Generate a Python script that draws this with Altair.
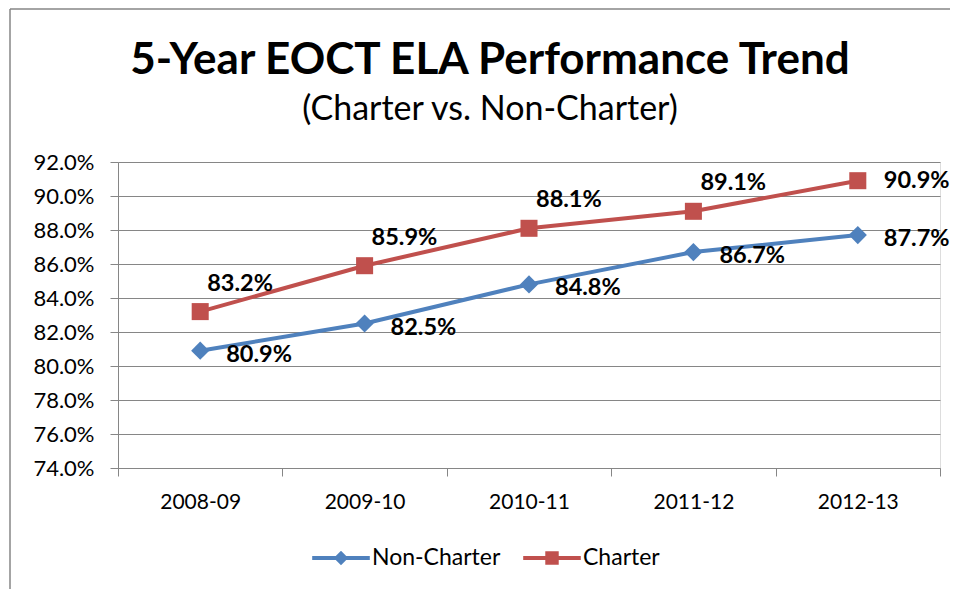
import altair as alt
import pandas as pd

years = ["2008-09", "2009-10", "2010-11", "2011-12", "2012-13"]
non_charter = [0.809, 0.825, 0.848, 0.867, 0.877]
charter = [0.832, 0.859, 0.881, 0.891, 0.909]
series = ["Non-Charter", "Charter"]
colors = ["#4F81BD", "#C0504D"]
y_ticks = [0.74, 0.76, 0.78, 0.80, 0.82, 0.84, 0.86, 0.88, 0.90, 0.92]

FONT = "Lato"

rows = []
for i, yr in enumerate(years):
    last = i == len(years) - 1
    rows.append(dict(idx=i, year=yr, series="Non-Charter", value=non_charter[i], last=last))
    rows.append(dict(idx=i, year=yr, series="Charter", value=charter[i], last=last))
df = pd.DataFrame(rows)

years_js = "[" + ",".join("'%s'" % y for y in years) + "]"

x_scale = alt.Scale(domain=[-0.5, len(years) - 0.5], nice=False, zero=False)
y_scale = alt.Scale(domain=[0.74, 0.92], nice=False, zero=False)

x_labels = alt.X(
    "idx:Q", scale=x_scale,
    axis=alt.Axis(orient="bottom", values=list(range(len(years))), labelExpr=years_js + "[datum.value]",
                  title=None, grid=False, ticks=False, domain=False,
                  labelFont=FONT, labelFontSize=21, labelColor="#000000",
                  labelPadding=23, labelOverlap=False),
)
x_ticks = alt.X(
    "idx:Q", scale=x_scale,
    axis=alt.Axis(orient="bottom", values=[i - 0.5 for i in range(len(years) + 1)], labels=False,
                  title=None, grid=False, tickSize=8, tickColor="#868686",
                  domainColor="#868686", domainWidth=1.2),
)
x_none = alt.X("idx:Q", scale=x_scale, axis=None)
y_enc = alt.Y(
    "value:Q", scale=y_scale,
    axis=alt.Axis(values=y_ticks, format=".1%", title=None, grid=True,
                  gridColor="#868686", gridWidth=1, tickSize=8, tickColor="#868686",
                  domainColor="#868686", labelFont=FONT, labelFontSize=22,
                  labelColor="#000000", labelPadding=16, labelOverlap=False,
                  labelFlush=False, labelBound=False),
)
color_nolegend = alt.Color("series:N", scale=alt.Scale(domain=series, range=colors), legend=None)

base = alt.Chart(df)

ticks_layer = base.mark_line(opacity=0).encode(x=x_ticks, y=y_enc, detail="series:N")
lines = base.mark_line(strokeWidth=4).encode(x=x_labels, y=y_enc, color=color_nolegend, detail="series:N")

points = base.mark_point(filled=True, opacity=1).encode(
    x=x_none, y=y_enc, color=color_nolegend,
    shape=alt.Shape("series:N", scale=alt.Scale(domain=series, range=["diamond", "square"]), legend=None),
    size=alt.Size("series:N", scale=alt.Scale(domain=series, range=[330, 290]), legend=None),
)

text_style = dict(font=FONT, fontSize=23.5, fontWeight="bold", color="#000000", baseline="middle", align="left")
nc_labels = base.transform_filter(alt.datum.series == "Non-Charter").mark_text(dx=26, dy=4, **text_style).encode(
    x=x_none, y=y_enc, text=alt.Text("value:Q", format=".1%"))
ch_labels = base.transform_filter((alt.datum.series == "Charter") & (~alt.datum.last)).mark_text(dx=7, dy=-28, **text_style).encode(
    x=x_none, y=y_enc, text=alt.Text("value:Q", format=".1%"))
ch_last = base.transform_filter((alt.datum.series == "Charter") & (alt.datum.last)).mark_text(dx=26, dy=0, **text_style).encode(
    x=x_none, y=y_enc, text=alt.Text("value:Q", format=".1%"))

diamond_path = "M-1.8,-0.13L1.8,-0.13L1.8,0.13L-1.8,0.13Z M0,-0.45L0.45,0L0,0.45L-0.45,0Z"
square_path = "M-1.8,-0.13L1.8,-0.13L1.8,0.13L-1.8,0.13Z M-0.42,-0.42L0.42,-0.42L0.42,0.42L-0.42,0.42Z"
legend = alt.Legend(title=None, orient="none", legendX=207, legendY=380, direction="horizontal",
                    symbolSize=1024, symbolStrokeWidth=0, labelFont=FONT, labelFontSize=23,
                    labelColor="#000000", labelOffset=15, columnPadding=22, padding=0, labelLimit=0)
legend_layer = base.transform_filter("false").mark_point(filled=True, opacity=1).encode(
    x=x_none, y=y_enc,
    color=alt.Color("series:N", scale=alt.Scale(domain=series, range=colors), legend=legend),
    shape=alt.Shape("series:N", scale=alt.Scale(domain=series, range=[diamond_path, square_path]), legend=legend),
)

frame = alt.Data(values=[{}])
left_border = alt.Chart(frame).mark_rule(color="#868686", strokeWidth=1.5).encode(
    x=alt.value(-108), y=alt.value(-153), y2=alt.value(460))
top_border = alt.Chart(frame).mark_rule(color="#868686", strokeWidth=1.5).encode(
    x=alt.value(-108), x2=alt.value(832), y=alt.value(-153))

chart = alt.layer(
    ticks_layer, lines, points, nc_labels, ch_labels, ch_last, legend_layer, left_border, top_border
).resolve_axis(x="independent").resolve_scale(
    color="independent", shape="independent", size="independent"
).properties(
    width=822, height=306,
    autosize=alt.AutoSizeParams(type="none"),
    padding={"left": 110, "top": 154, "right": 10, "bottom": 121},
    title=alt.TitleParams(
        text="5-Year EOCT ELA Performance Trend",
        subtitle="(Charter vs. Non-Charter)",
        font=FONT, fontSize=44, fontWeight="bold", color="#000000",
        subtitleFont=FONT, subtitleFontSize=34, subtitleColor="#000000",
        subtitlePadding=10, anchor="middle", dx=-39, offset=-119,
    ),
).configure_view(stroke=None).configure(background="#ffffff")

chart.save("out.html", embed_options={"renderer": "svg", "actions": False})
